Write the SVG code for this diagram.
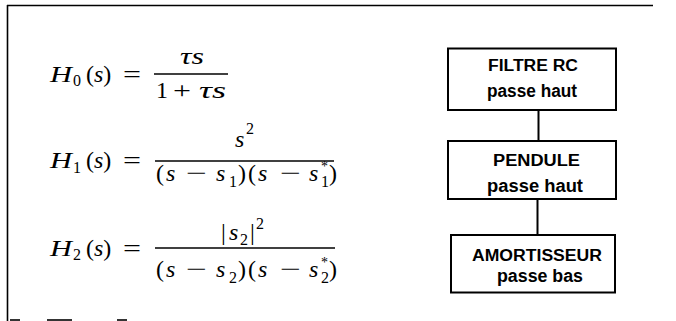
<svg xmlns="http://www.w3.org/2000/svg" width="676" height="321" viewBox="0 0 676 321">
<style>
.m{font-family:"Liberation Serif","Times New Roman",serif;font-size:24px;fill:#000}
.i{font-style:italic}
.s{font-size:16px}
.st{font-size:14px}
.bar{stroke:#000;stroke-width:1.3}
.frame{stroke:#000;stroke-width:1.6;fill:none}
.box{fill:#fff;stroke:#000;stroke-width:2}
.t1{font-family:"Liberation Sans",Arial,sans-serif;font-weight:bold;font-size:16px;fill:#000}
.t2{font-family:"Liberation Sans",Arial,sans-serif;font-weight:bold;font-size:18px;fill:#000}
.conn{stroke:#000;stroke-width:2}
</style>
<g id="frame">
<line class="frame" x1="7" y1="5.5" x2="653" y2="5.5"/>
<line class="frame" x1="7.5" y1="5" x2="7.5" y2="321"/>
<line class="frame" x1="10" y1="320" x2="20" y2="320"/>
<line class="frame" x1="47" y1="320" x2="72" y2="320"/>
<line class="frame" x1="117" y1="320" x2="127" y2="320"/>
</g>
<g id="eq0">
<text class="m i" x="50" y="81.5" textLength="22" lengthAdjust="spacingAndGlyphs">H</text>
<text class="m s" x="73" y="86">0</text>
<text class="m" x="86" y="81.5">(<tspan class="i">s</tspan>)</text>
<text class="m" x="123" y="81.5" textLength="18" lengthAdjust="spacingAndGlyphs">=</text>
<line class="bar" x1="154" y1="74" x2="228" y2="74"/>
<text class="m i" x="180" y="63.5" textLength="24" lengthAdjust="spacingAndGlyphs">τs</text>
<text class="m" x="156" y="98">1</text>
<text class="m" x="173" y="98" textLength="18" lengthAdjust="spacingAndGlyphs">+</text>
<text class="m i" x="199" y="98" textLength="27" lengthAdjust="spacingAndGlyphs">τs</text>
</g>
<g id="eq1">
<text class="m i" x="50" y="168" textLength="22" lengthAdjust="spacingAndGlyphs">H</text>
<text class="m s" x="73" y="172.5">1</text>
<text class="m" x="86" y="168">(<tspan class="i">s</tspan>)</text>
<text class="m" x="123" y="168" textLength="18" lengthAdjust="spacingAndGlyphs">=</text>
<line class="bar" x1="155" y1="161" x2="334" y2="161"/>
<text class="m i" x="235" y="147">s</text>
<text class="m s" x="246" y="134">2</text>
<text class="m" x="156" y="181">(</text>
<text class="m i" x="166" y="181">s</text>
<text class="m" x="186" y="181" textLength="21" lengthAdjust="spacingAndGlyphs">−</text>
<text class="m i" x="216" y="181">s</text>
<text class="m s" x="229" y="187">1</text>
<text class="m" x="238" y="181">)</text>
<text class="m" x="248" y="181">(</text>
<text class="m i" x="258" y="181">s</text>
<text class="m" x="280" y="181" textLength="21" lengthAdjust="spacingAndGlyphs">−</text>
<text class="m i" x="309" y="181">s</text>
<text class="m s" x="321" y="187">1</text>
<text class="m st" x="321" y="171">*</text>
<text class="m" x="329" y="181">)</text>
</g>
<g id="eq2">
<text class="m i" x="50" y="255.5" textLength="22" lengthAdjust="spacingAndGlyphs">H</text>
<text class="m s" x="73" y="260">2</text>
<text class="m" x="86" y="255.5">(<tspan class="i">s</tspan>)</text>
<text class="m" x="123" y="255.5" textLength="18" lengthAdjust="spacingAndGlyphs">=</text>
<line class="bar" x1="155" y1="248" x2="335" y2="248"/>
<text class="m" x="221" y="240">|</text>
<text class="m i" x="229" y="240">s</text>
<text class="m s" x="240" y="244.5">2</text>
<text class="m" x="250" y="240">|</text>
<text class="m s" x="256" y="229">2</text>
<text class="m" x="156" y="277">(</text>
<text class="m i" x="166" y="277">s</text>
<text class="m" x="186" y="277" textLength="21" lengthAdjust="spacingAndGlyphs">−</text>
<text class="m i" x="216" y="277">s</text>
<text class="m s" x="229" y="283">2</text>
<text class="m" x="238" y="277">)</text>
<text class="m" x="248" y="277">(</text>
<text class="m i" x="258" y="277">s</text>
<text class="m" x="280" y="277" textLength="21" lengthAdjust="spacingAndGlyphs">−</text>
<text class="m i" x="309" y="277">s</text>
<text class="m s" x="321" y="283">2</text>
<text class="m st" x="321" y="267">*</text>
<text class="m" x="329" y="277">)</text>
</g>
<g id="connectors">
<line class="conn" x1="538.5" y1="110" x2="538.5" y2="141"/>
<line class="conn" x1="537.5" y1="199" x2="537.5" y2="235"/>
</g>
<g id="node-filtre">
<rect class="box" x="448" y="48.5" width="168" height="61.5"/>
<text class="t1" x="488" y="70.5" textLength="90" lengthAdjust="spacingAndGlyphs">FILTRE RC</text>
<text class="t2" x="487" y="96.5" textLength="90" lengthAdjust="spacingAndGlyphs">passe haut</text>
</g>
<g id="node-pendule">
<rect class="box" x="448" y="141" width="168" height="58"/>
<text class="t1" x="493" y="165.5" textLength="87" lengthAdjust="spacingAndGlyphs">PENDULE</text>
<text class="t2" x="487" y="191.5" textLength="96" lengthAdjust="spacingAndGlyphs">passe haut</text>
</g>
<g id="node-amortisseur">
<rect class="box" x="451" y="235" width="164" height="57.5"/>
<text class="t1" x="472" y="261" textLength="130" lengthAdjust="spacingAndGlyphs">AMORTISSEUR</text>
<text class="t2" x="497" y="282" textLength="86" lengthAdjust="spacingAndGlyphs">passe bas</text>
</g>
</svg>
